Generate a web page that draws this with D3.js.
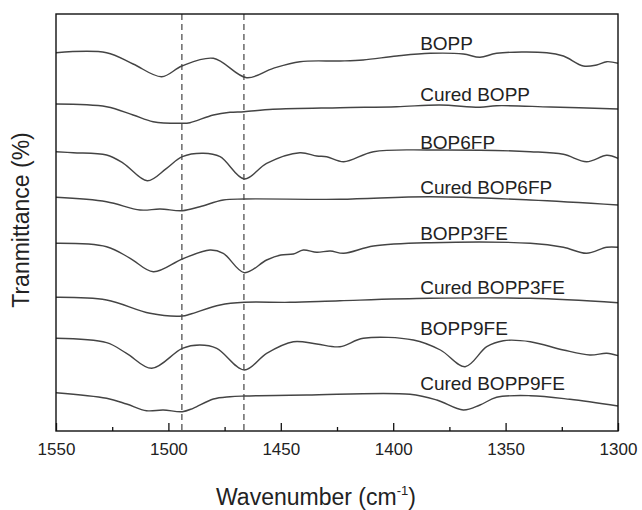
<!DOCTYPE html>
<html>
<head>
<meta charset="utf-8">
<script src="https://cdn.jsdelivr.net/npm/d3@7"></script>
<style>
  body { margin: 0; background: #fff; }
  svg text { font-family: Arial, "Liberation Sans", sans-serif; fill: #222; }
</style>
</head>
<body>
<div id="chart"></div>
<script>
// tick values on the wavenumber axis
const majorTicks = [1550, 1500, 1450, 1400, 1350, 1300];
const minorTicks = [1525, 1475, 1425, 1375, 1325];
// dashed reference lines (cm-1)
const markers = [1494, 1466.4];

// spectra: [wavenumber, transmittance (a.u., stacked)]
const bopp = [[1550,378.3],[1527.5,378.3],[1515.7,367],[1503,354.3],[1494,365],[1480,372.7],[1465.2,353.3],[1453.4,362.7],[1441.5,369.3],[1423.7,370],[1413.4,371],[1398.4,375],[1383.6,377.7],[1368.8,377],[1361.4,373.7],[1354,377.7],[1331.7,378.3],[1324.3,375],[1315.4,365],[1309.5,366],[1305,369.3],[1300,367.7]];
const curedBopp = [[1550,327],[1527.5,324.3],[1515.7,316],[1506.8,309.3],[1494,307.7],[1490.4,308.3],[1480,316],[1472.6,318.7],[1466.4,319.3],[1453.5,321.7],[1423.7,323.3],[1398.4,324.3],[1379.2,326],[1361.4,323.7],[1354,325.3],[1330,324],[1300,322]];
const bop6fp = [[1550,279.3],[1542.3,278.3],[1527.5,276],[1520,267.7],[1509.4,250.3],[1500.8,262.7],[1493.8,274.3],[1484.5,277.7],[1477,274.3],[1466.2,252],[1456.3,267.7],[1441.5,278.3],[1434,275],[1429.6,274.3],[1422,269.3],[1408.8,279.3],[1383.6,281],[1339,279.3],[1324.3,276.7],[1314,269.3],[1305,275.7],[1300,272.7]];
const curedBop6fp = [[1550,233.7],[1527.5,229.3],[1512.6,221],[1503.7,222],[1493.8,220.3],[1486,224.3],[1475.6,231],[1466.2,232],[1423.7,231.7],[1383.6,234.3],[1339,231],[1300,226]];
const bopp3fe = [[1550,187.7],[1527.5,184.3],[1517,172.7],[1506.7,159.3],[1493.8,172],[1481.5,181],[1475.6,177.7],[1466.2,158.3],[1456.3,171],[1450,176],[1444.4,177],[1440,181],[1434,178.7],[1428,180],[1422,177.7],[1408.8,185],[1383.6,188.3],[1339,187.7],[1324.3,183.7],[1314,177.7],[1305,183.7],[1300,183.7]];
const curedBopp3fe = [[1550,133.7],[1527.5,131],[1508.2,117.7],[1493.8,115],[1490.4,116.7],[1477,126],[1466.2,128.7],[1446,128.7],[1423.7,130.3],[1383.6,132.7],[1339,132.7],[1300,128.3]];
const bopp9fe = [[1550,92.7],[1527.5,88.3],[1518.6,77.7],[1507.4,62.7],[1493.8,82.7],[1486,86],[1478.5,82.7],[1466.2,61],[1456.3,77.7],[1444.4,89.3],[1434,87],[1423.7,84.3],[1413.3,92.7],[1391,91],[1379,81],[1368,64.3],[1358.4,84.3],[1351,90.3],[1339,89.3],[1324.3,81],[1312.5,76],[1305,77.7],[1300,75.3]];
const curedBopp9fe = [[1550,38.3],[1527.5,32.7],[1518.6,27],[1509.7,20.3],[1502.3,21],[1493.8,19.3],[1489,22.7],[1480,32],[1472.6,34.3],[1466,35],[1438.5,36],[1392.5,36.7],[1380.6,31],[1368.8,21],[1361.4,26],[1354,33.7],[1339,35.3],[1321.4,31.7],[1300,25]];

const seriesNames = ["BOPP", "Cured BOPP", "BOP6FP", "Cured BOP6FP", "BOPP3FE", "Cured BOPP3FE", "BOPP9FE", "Cured BOPP9FE"];
const seriesData = [bopp, curedBopp, bop6fp, curedBop6fp, bopp3fe, curedBopp3fe, bopp9fe, curedBopp9fe];

const width = 642, height = 510;
const margin = {left: 56, right: 24, top: 14, bottom: 79};

const svg = d3.select("#chart").append("svg")
  .attr("width", width)
  .attr("height", height);

const x = d3.scaleLinear().domain([1550, 1300]).range([margin.left, width - margin.right]);
const y = d3.scaleLinear().domain([0, 417]).range([height - margin.bottom, margin.top]);

const line = d3.line()
  .x(d => x(d[0]))
  .y(d => y(d[1]))
  .curve(d3.curveCatmullRom.alpha(0.5));

// dashed markers
svg.append("g")
  .selectAll("line")
  .data(markers)
  .enter().append("line")
    .attr("x1", d => x(d))
    .attr("x2", d => x(d))
    .attr("y1", y(417))
    .attr("y2", y(0))
    .attr("stroke", "#333")
    .attr("stroke-width", 1.1)
    .attr("stroke-dasharray", "6,4");

// spectra
svg.append("g")
  .selectAll("path")
  .data(seriesData)
  .enter().append("path")
    .attr("d", line)
    .attr("fill", "none")
    .attr("stroke", "#444")
    .attr("stroke-width", 1.4);

// labels
svg.append("g")
  .selectAll("text")
  .data(seriesNames)
  .enter().append("text")
    .attr("x", x(1388))
    .attr("y", (d, i) => y(seriesData[i][0][1]) - 3)
    .attr("font-size", 19)
    .text(d => d);

// axes
const axisY = height - margin.bottom;
svg.append("g")
  .attr("transform", `translate(0,${axisY})`)
  .call(d3.axisBottom(x).tickValues(majorTicks).tickSize(-8).tickSizeOuter(0).tickPadding(12).tickFormat(d3.format("d")))
  .call(g => g.select(".domain").remove())
  .call(g => g.selectAll(".tick line").attr("stroke", "#111").attr("stroke-width", 1.3))
  .call(g => g.selectAll(".tick text").attr("font-size", 17).attr("fill", "#222")
    .style("font-family", "Arial, 'Liberation Sans', sans-serif"));

svg.append("g")
  .attr("transform", `translate(0,${axisY})`)
  .call(d3.axisBottom(x).tickValues(minorTicks).tickSize(-4).tickSizeOuter(0).tickFormat(""))
  .call(g => g.select(".domain").remove())
  .call(g => g.selectAll(".tick line").attr("stroke", "#111").attr("stroke-width", 1.3));

// frame
svg.append("rect")
  .attr("x", x(1550))
  .attr("y", y(417))
  .attr("width", x(1300) - x(1550))
  .attr("height", y(0) - y(417))
  .attr("fill", "none")
  .attr("stroke", "#111")
  .attr("stroke-width", 1.4);

// axis titles
const xt = svg.append("text")
  .attr("x", 216)
  .attr("y", 505)
  .attr("font-size", 23);
xt.append("tspan").text("Wavenumber (cm");
xt.append("tspan").attr("font-size", 13).attr("dy", -10).text("-1");
xt.append("tspan").attr("dy", 10).text(")");

svg.append("text")
  .attr("transform", "translate(29,220) rotate(-90)")
  .attr("text-anchor", "middle")
  .attr("font-size", 23)
  .text("Tranmittance (%)");
</script>
</body>
</html>
